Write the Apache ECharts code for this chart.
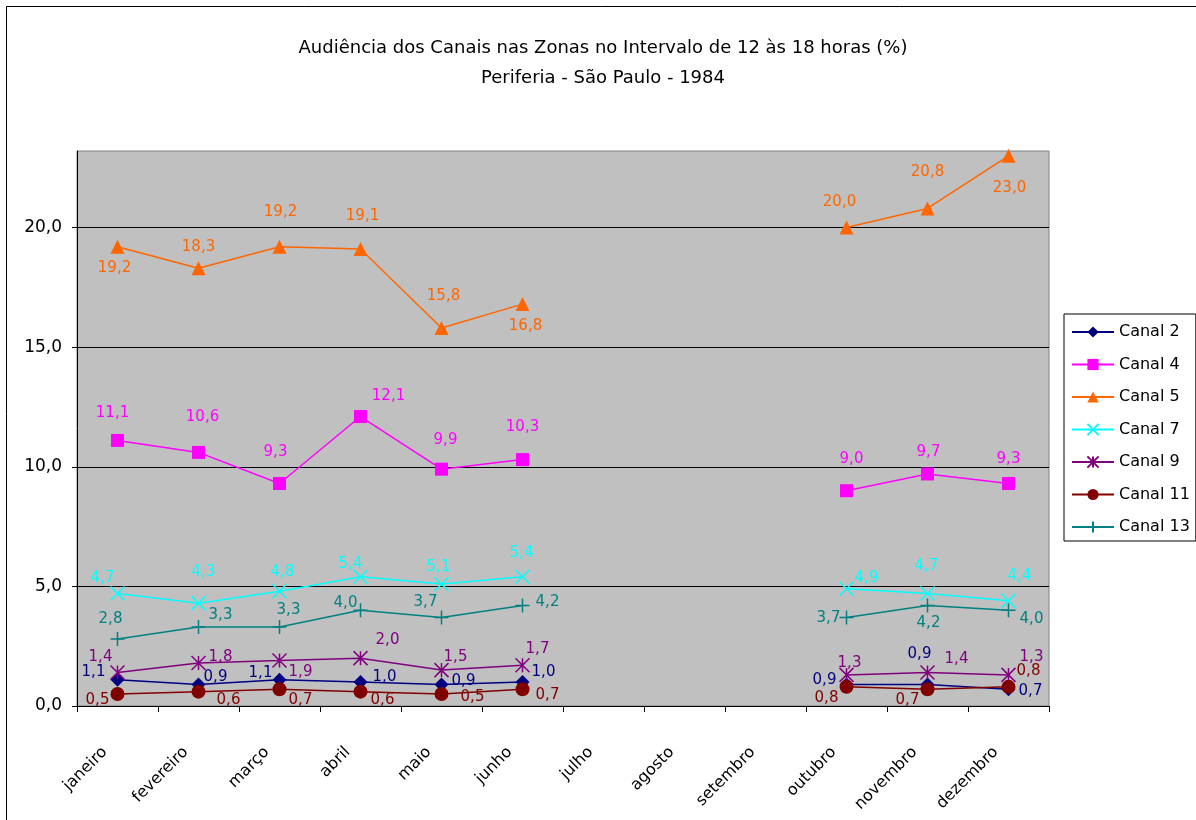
<!DOCTYPE html>
<html>
<head>
<meta charset="utf-8">
<script src="https://cdn.jsdelivr.net/npm/echarts@6/dist/echarts.min.js"></script>
<style>
  html, body { margin: 0; padding: 0; background: #fff; }
  #box { width: 1196px; height: 820px; }
</style>
</head>
<body>
<div id="box"></div>
<script>
// meses
let months = ["janeiro", "fevereiro", "março", "abril", "maio", "junho",
  "julho", "agosto", "setembro", "outubro", "novembro", "dezembro"];

// audiência (%) por canal, julho-setembro sem dados
let canal2 = [1.1, 0.9, 1.1, 1.0, 0.9, 1.0, null, null, null, 0.9, 0.9, 0.7];
let canal4 = [11.1, 10.6, 9.3, 12.1, 9.9, 10.3, null, null, null, 9.0, 9.7, 9.3];
let canal5 = [19.2, 18.3, 19.2, 19.1, 15.8, 16.8, null, null, null, 20.0, 20.8, 23.0];
let canal7 = [4.7, 4.3, 4.8, 5.4, 5.1, 5.4, null, null, null, 4.9, 4.7, 4.4];
let canal9 = [1.4, 1.8, 1.9, 2.0, 1.5, 1.7, null, null, null, 1.3, 1.4, 1.3];
let canal11 = [0.5, 0.6, 0.7, 0.6, 0.5, 0.7, null, null, null, 0.8, 0.7, 0.8];
let canal13 = [2.8, 3.3, 3.3, 4.0, 3.7, 4.2, null, null, null, 3.7, 4.2, 4.0];

// deslocamento dos rótulos [dx, dy] em relação ao ponto
let off2 = [[-24, -8], [17, -7], [-19, -7], [24, -5], [22, -3], [21, -10], null, null, null, [-22, -4], [-8, -30], [22, 2]];
let off4 = [[-5, -27], [4, -35], [-4, -31], [28, -20], [4, -29], [0, -32], null, null, null, [5, -32], [1, -22], [0, -24]];
let off5 = [[-3, 21], [0, -21], [1, -35], [2, -33], [2, -32], [3, 22], null, null, null, [-7, -25], [0, -36], [1, 32]];
let off7 = [[-15, -15], [5, -31], [3, -19], [-10, -13], [-3, -17], [-1, -24], null, null, null, [20, -11], [-1, -27], [11, -25]];
let off9 = [[-17, -15], [22, -6], [21, 12], [27, -18], [14, -13], [15, -16], null, null, null, [3, -12], [29, -13], [23, -18]];
let off11 = [[-20, 6], [30, 8], [21, 11], [22, 8], [31, 3], [25, 6], null, null, null, [-20, 11], [-20, 11], [20, -16]];
let off13 = [[-7, -20], [22, -12], [9, -17], [-15, -7], [-16, -15], [25, -3], null, null, null, [-18, 1], [1, 18], [23, 9]];

const FONT = "DejaVu Sans";
const X_MARK = "path://M0,0L10,10M10,0L0,10";
const STAR_MARK = "path://M0,0L10,10M10,0L0,10M5,0L5,10";
const PLUS_MARK = "path://M5,0L5,10M0,5L10,5";

let fmt = v => v.toFixed(1).replace(".", ",");

function mkSeries(name, values, offsets, color, symbol, size, stroke) {
  return {
    type: "line",
    name: name,
    symbol: symbol,
    symbolSize: size,
    connectNulls: false,
    showAllSymbol: true,
    lineStyle: { color: color, width: 1.5 },
    itemStyle: stroke
      ? { color: color, borderColor: color, borderWidth: 1.5 }
      : { color: color, borderWidth: 0 },
    label: {
      show: true,
      position: "inside",
      align: "center",
      verticalAlign: "middle",
      color: color,
      fontFamily: FONT,
      fontSize: 15,
      formatter: p => fmt(p.value)
    },
    emphasis: { disabled: true },
    data: values.map((v, i) =>
      v === null ? null : { value: v, label: { offset: offsets[i] } }
    )
  };
}

let chart = echarts.init(document.getElementById("box"), null, { renderer: "canvas" });

chart.setOption({
  backgroundColor: "#ffffff",
  animation: false,
  graphic: [
    {
      type: "rect",
      shape: { x: 6.5, y: 6.5, width: 1200, height: 820 },
      style: { fill: null, stroke: "#000", lineWidth: 1 },
      silent: true
    },
    {
      type: "text", x: 603, y: 48,
      style: {
        text: "Audiência dos Canais nas Zonas no Intervalo de 12 às 18 horas (%)",
        font: "18px " + FONT, fill: "#000", align: "center", verticalAlign: "middle"
      }
    },
    {
      type: "text", x: 603, y: 78,
      style: {
        text: "Periferia - São Paulo - 1984",
        font: "18px " + FONT, fill: "#000", align: "center", verticalAlign: "middle"
      }
    }
  ],
  grid: {
    left: 77, right: 147, top: 151, bottom: 114,
    show: true,
    backgroundColor: "#c0c0c0",
    borderColor: "#808080",
    borderWidth: 1
  },
  legend: {
    orient: "vertical",
    left: 1064, top: 314,
    padding: [8, 6, 4, 7],
    itemWidth: 42, itemHeight: 14, itemGap: 12.5,
    backgroundColor: "#fff",
    borderColor: "#000", borderWidth: 1,
    textStyle: { fontFamily: FONT, fontSize: 16, color: "#000", lineHeight: 20 },
    data: ["Canal 2", "Canal 4", "Canal 5", "Canal 7", "Canal 9", "Canal 11", "Canal 13"]
  },
  xAxis: {
    type: "category",
    data: months,
    boundaryGap: true,
    axisLine: { lineStyle: { color: "#000", width: 1 } },
    axisTick: { show: true, inside: false, length: 6, alignWithLabel: false, lineStyle: { color: "#000" } },
    axisLabel: {
      interval: 0, rotate: 45, margin: 31,
      padding: [0, 18, 0, 0],
      fontFamily: FONT, fontSize: 16, color: "#000"
    },
    splitLine: { show: false }
  },
  yAxis: {
    type: "value",
    min: 0, max: 23.2, interval: 5,
    axisLine: { show: true, lineStyle: { color: "#000", width: 1 } },
    axisTick: { show: true, length: 5, lineStyle: { color: "#000" } },
    axisLabel: {
      showMaxLabel: false, margin: 15,
      fontFamily: FONT, fontSize: 17, color: "#000",
      formatter: v => fmt(v)
    },
    splitLine: { show: true, showMinLine: false, showMaxLine: false, lineStyle: { color: "#000", width: 1 } }
  },
  series: [
    mkSeries("Canal 2", canal2, off2, "#000080", "diamond", 14, false),
    mkSeries("Canal 4", canal4, off4, "#ff00ff", "rect", 13, false),
    mkSeries("Canal 5", canal5, off5, "#ff6600", "triangle", 14, false),
    mkSeries("Canal 7", canal7, off7, "#00ffff", X_MARK, 14, true),
    mkSeries("Canal 9", canal9, off9, "#800080", STAR_MARK, 14, true),
    mkSeries("Canal 11", canal11, off11, "#800000", "circle", 14, false),
    mkSeries("Canal 13", canal13, off13, "#008080", PLUS_MARK, 14, true)
  ]
});
</script>
</body>
</html>
